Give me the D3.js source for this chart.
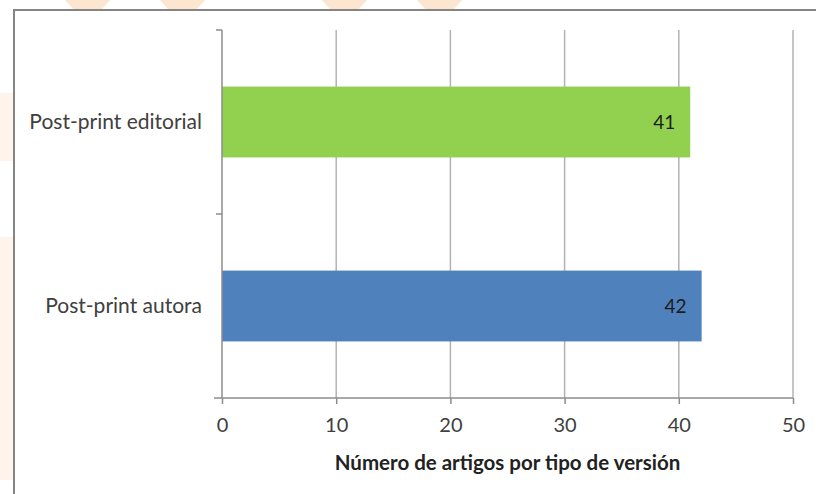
<!DOCTYPE html>
<html>
<head>
<meta charset="utf-8">
<script src="https://cdn.jsdelivr.net/npm/d3@7"></script>
<style>
  body { margin: 0; background: #fff; }
  text { font-family: Lato, "Open Sans", sans-serif; }
</style>
</head>
<body>
<div id="chart"></div>
<script>

const categories = ["Post-print editorial", "Post-print autora"] ;
const values = [41, 42] ;
const barColors = ["#92d050", "#4f81bd"] ;
const xTicks = [0, 10, 20, 30, 40, 50] ;
const xTitle = "Número de artigos por tipo de versión" ;

const width = 816 ;
const height = 494 ;
const margin = { top: 30, right: 23, bottom: 96, left: 222 } ;

var svg = d3.select("#chart").append("svg")
	.attr("width", width)
	.attr("height", height) ;

// faint background blotches from the page behind the chart
const topBlots = [ [65, 110], [160, 205], [322, 367], [417, 462] ] ;
svg.selectAll("path.blot")
	.data(topBlots)
	.enter()
		.append("path")
			.attr("class", "blot")
			.attr("fill", "#fde6cf")
			.attr("d", function(d) { return "M" + d[0] + ",0 L" + d[1] + ",0 L" + (d[1]-8) + ",9 L" + (d[0]+8) + ",9 Z" }) ;
svg.append("rect").attr("x", 0).attr("y", 93).attr("width", 13).attr("height", 68).attr("fill", "#fff4ec") ;
svg.append("rect").attr("x", 0).attr("y", 237).attr("width", 13).attr("height", 243).attr("fill", "#fff4ec") ;

// chart border
svg.append("rect")
	.attr("x", 14).attr("y", 10)
	.attr("width", width + 10).attr("height", height + 10)
	.attr("fill", "#fff")
	.attr("stroke", "#858585")
	.attr("stroke-width", 2) ;

const x = d3.scaleLinear()
	.domain([0, 50])
	.range([margin.left, width - margin.right]) ;

const y = d3.scaleBand()
	.domain(categories)
	.range([margin.top, height - margin.bottom])
	.paddingInner(0.615)
	.paddingOuter(0.3075) ;

const plotBottom = height - margin.bottom ;

// gridlines
svg.selectAll("line.grid")
	.data(xTicks.slice(1))
	.enter()
		.append("line")
			.attr("class", "grid")
			.attr("x1", function(d) { return x(d) }).attr("x2", function(d) { return x(d) })
			.attr("y1", margin.top).attr("y2", plotBottom)
			.attr("stroke", "#b3b3b3")
			.attr("stroke-width", 1.5) ;

// bars
svg.selectAll("rect.bar")
	.data(values)
	.enter()
		.append("rect")
			.attr("class", "bar")
			.attr("x", x(0))
			.attr("y", function(d, i) { return y(categories[i]) })
			.attr("width", function(d) { return x(d) - x(0) })
			.attr("height", y.bandwidth())
			.attr("fill", function(d, i) { return barColors[i] }) ;

// value labels
svg.selectAll("text.value")
	.data(values)
	.enter()
		.append("text")
			.attr("class", "value")
			.attr("x", function(d) { return x(d) - 15 })
			.attr("y", function(d, i) { return y(categories[i]) + y.bandwidth()/2 })
			.attr("dy", "0.35em")
			.attr("text-anchor", "end")
			.attr("font-size", 19)
			.attr("fill", "#1b1b1b")
			.text(function(d) { return d }) ;

// x axis
const xAxis = svg.append("g")
	.attr("transform", "translate(0," + plotBottom + ")")
	.call(d3.axisBottom(x).tickValues(xTicks).tickSize(6)) ;
xAxis.select(".domain").attr("stroke", "#8c8c8c").attr("stroke-width", 1.5)
	.attr("d", "M" + (x(0) - 8) + ",0H" + x(50)) ;
xAxis.selectAll(".tick line").attr("stroke", "#8c8c8c").attr("stroke-width", 1.5) ;
xAxis.selectAll(".tick text")
	.attr("y", 27)
	.attr("dy", "0.35em")
	.attr("font-size", 20)
	.attr("fill", "#404040")
	.attr("font-family", "Lato, 'Open Sans', sans-serif") ;

// y axis with ticks at the category boundaries
svg.append("line")
	.attr("x1", x(0)).attr("x2", x(0))
	.attr("y1", margin.top).attr("y2", plotBottom)
	.attr("stroke", "#8c8c8c").attr("stroke-width", 1.5) ;
const bounds = [margin.top, (margin.top + plotBottom) / 2] ;
svg.selectAll("line.ytick")
	.data(bounds)
	.enter()
		.append("line")
			.attr("class", "ytick")
			.attr("x1", x(0) - 6).attr("x2", x(0))
			.attr("y1", function(d) { return d }).attr("y2", function(d) { return d })
			.attr("stroke", "#8c8c8c").attr("stroke-width", 1.5) ;

svg.selectAll("text.cat")
	.data(categories)
	.enter()
		.append("text")
			.attr("class", "cat")
			.attr("x", x(0) - 20)
			.attr("y", function(d) { return y(d) + y.bandwidth()/2 })
			.attr("dy", "0.35em")
			.attr("text-anchor", "end")
			.attr("font-size", 21)
			.attr("fill", "#404040")
			.text(function(d) { return d }) ;

// axis title
svg.append("text")
	.attr("x", (x(0) + x(50)) / 2)
	.attr("y", 463)
	.attr("dy", "0.35em")
	.attr("text-anchor", "middle")
	.attr("font-size", 20.5)
	.attr("font-weight", "bold")
	.attr("fill", "#222")
	.text(xTitle) ;

</script>
</body>
</html>
